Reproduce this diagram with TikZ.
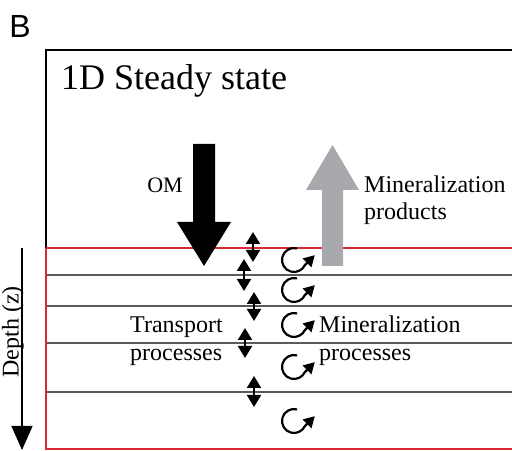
\documentclass[tikz,border=0pt]{standalone}
\usepackage{fontspec}
\setmainfont{Liberation Serif}
\newfontfamily\panelfont{Liberation Sans}
\usetikzlibrary{arrows.meta}
\definecolor{boxred}{RGB}{218,40,55}
\definecolor{prodgray}{RGB}{167,169,172}
\definecolor{layergray}{RGB}{90,90,90}
\begin{document}
\begin{tikzpicture}[x=1bp,y=1bp,
  lbl/.style={font=\fontsize{24bp}{28bp}\selectfont, inner sep=0, anchor=base west},
  dbl/.style={line width=2bp, {Triangle[width=14bp,length=12bp]}-{Triangle[width=14bp,length=12bp]}},
  rot/.style={line width=2.2bp, -{Triangle[width=12bp,length=11bp]}},
  layer/.style={layergray, line width=2.4bp},
  redline/.style={boxred, line width=2bp}
]
\useasboundingbox (0,0) rectangle (512,451);
% panel letter
\node[font=\panelfont\fontsize{32bp}{32bp}\selectfont, inner sep=0] (B) at (20,424) {B};
% box
\draw[black, line width=2bp] (513,401) -- (46,401) -- (46,203);
\draw[layer] (46,176) -- (513,176);
\draw[layer] (46,145) -- (513,145);
\draw[layer] (46,108) -- (513,108);
\draw[layer] (46,59) -- (513,59);
\draw[redline] (46,203) -- (513,203);
\draw[redline] (46,203) -- (46,2) -- (513,2);
% title
\node[font=\fontsize{36bp}{40bp}\selectfont, inner sep=0, anchor=base west] (title) at (61,361) {1D Steady state};
% big arrows
\fill[black] (193,307) -- (215,307) -- (215,229) -- (231,229) -- (204,185) -- (177,229) -- (193,229) -- cycle;
\fill[prodgray] (322,185) -- (343,185) -- (343,261) -- (359,261) -- (332.5,306) -- (306,261) -- (322,261) -- cycle;
\node[font=\fontsize{22bp}{26bp}\selectfont, inner sep=0] (om) at (165,266) {OM};
\node[lbl] (mp1) at (364,258) {Mineralization};
\node[lbl] (mp2) at (364,231) {products};
% transport arrows
\draw[dbl] (253,219) -- (253,189);
\draw[dbl] (244,192) -- (244,160);
\draw[dbl] (254,159) -- (254,130);
\draw[dbl] (245,123) -- (245,93);
\draw[dbl] (254,75) -- (254,44);
% mineralization rotation arrows
\foreach \cy in {191,161,126,84,30}{
  \draw[rot] ([shift={(75:12)}]294,\cy) arc[start angle=75,end angle=335,radius=12] -- ++(45:14);
}
\node[lbl] (tp1) at (130,118) {Transport};
\node[lbl] (tp2) at (130,90) {processes};
\node[lbl] (mr1) at (319,118) {Mineralization};
\node[lbl] (mr2) at (319,90) {processes};
% depth axis
\coordinate (dtop) at (22,203);
\coordinate (dbot) at (22,1);
\draw[line width=1.3bp, -{Triangle[width=21bp,length=24bp]}] (dtop) -- (dbot);
\node[rotate=90, anchor=south, inner sep=0, font=\fontsize{24bp}{28bp}\selectfont] (depth) at (24,119) {Depth (z)};
\end{tikzpicture}
\end{document}
